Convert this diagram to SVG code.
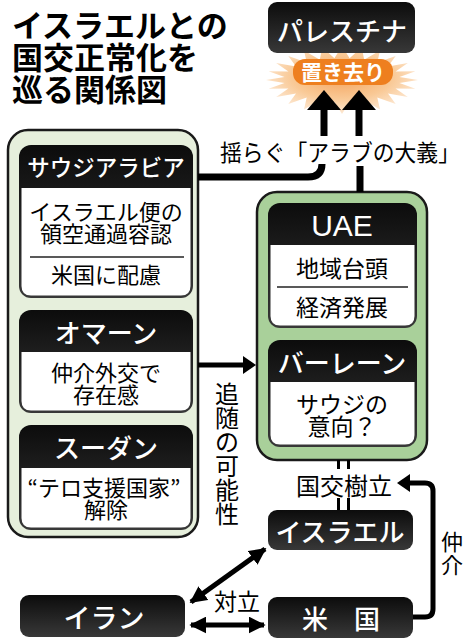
<svg xmlns="http://www.w3.org/2000/svg" width="470" height="640" viewBox="0 0 470 640">
<defs>
<linearGradient id="gBlk" x1="0" y1="0" x2="0" y2="1">
<stop offset="0" stop-color="#0c0c0c"/><stop offset="1" stop-color="#383838"/>
</linearGradient>
<radialGradient id="gBurst" cx="0.5" cy="0.45" r="0.55">
<stop offset="0" stop-color="#f4a35c"/><stop offset="0.6" stop-color="#f9c996"/><stop offset="1" stop-color="#fde9d4"/>
</radialGradient>
<marker id="ah" viewBox="0 0 10 10" refX="9" refY="5" markerWidth="3.4" markerHeight="3.4" orient="auto-start-reverse" markerUnits="strokeWidth">
<path d="M0,0 L10,5 L0,10 Z" fill="#000"/>
</marker>
<style>
text{font-family:"Noto Sans CJK JP","Noto Sans",sans-serif;dominant-baseline:central;text-anchor:middle}
.ttl{font-size:31px;font-weight:700;text-anchor:start;fill:#000}
.blk{fill:url(#gBlk)}
.hd{fill:#fff;font-weight:500}
.body{fill:#fff}
.bt{font-size:22px;fill:#000}
.lbl{font-size:23px;fill:#000}
.ln{fill:none;stroke:#000}
.div{stroke:#222;stroke-width:1.5}
</style>
</defs>
<rect width="470" height="640" fill="#fff"/>

<g id="title">
<text class="ttl" x="12" y="23">イスラエルとの<tspan x="12" dy="32">国交正常化を</tspan><tspan x="12" dy="32">巡る関係図</tspan></text>
</g>

<g id="burst">
<polygon fill="url(#gBurst)" points="418,80 399.5,82.9 415.4,88.8 395.6,88.4 407.8,97 388,93.4 395.7,104 377.3,97.4 380,109.4 364.2,100.3 361.7,112.8 349.6,101.8 342,114 334.4,101.8 322.3,112.8 319.8,100.3 304,109.4 306.7,97.4 288.3,104 296,93.4 276.2,97 288.4,88.4 268.6,88.8 284.5,82.9 266,80 284.5,77.1 268.6,71.2 288.4,71.6 276.2,63 296,66.6 288.3,56 306.7,62.6 304,50.6 319.8,59.7 322.3,47.2 334.4,58.2 342,46 349.6,58.2 361.7,47.2 364.2,59.7 380,50.6 377.3,62.6 395.7,56 388,66.6 407.8,63 395.6,71.6 415.4,71.2 399.5,77.1"/>
</g>

<g id="palestine">
<rect class="blk" x="268" y="2" width="147" height="51" rx="9"/>
<text class="hd" x="342" y="29" style="font-size:26px">パレスチナ</text>
</g>

<g id="left-behind">
<rect x="293" y="59" width="100" height="26" rx="12" fill="#ee7f1f"/>
<text x="343" y="71" style="font-size:21px;font-weight:700;fill:#fff">置き去り</text>
</g>

<g id="saudi-group">
<rect x="8" y="130" width="190" height="407" rx="20" fill="#e6efdc" stroke="#1a1a1a" stroke-width="2.5"/>
</g>

<g id="saudi">
<rect class="blk" x="19" y="145" width="174" height="153" rx="12"/>
<path class="body" d="M21.5,188 H190.5 V286 Q190.5,295.5 181,295.5 H31 Q21.5,295.5 21.5,286 Z"/>
<text class="hd" x="106" y="166" style="font-size:22.5px">サウジアラビア</text>
<text class="bt" x="106" y="210">イスラエル便の<tspan x="106" dy="21.5">領空通過容認</tspan></text>
<line class="div" x1="30" y1="257" x2="184" y2="257"/>
<text class="bt" x="106" y="273">米国に配慮</text>
</g>

<g id="oman">
<rect class="blk" x="19" y="310" width="174" height="103" rx="12"/>
<path class="body" d="M21.5,352 H190.5 V401 Q190.5,410.5 181,410.5 H31 Q21.5,410.5 21.5,401 Z"/>
<text class="hd" x="106" y="331" style="font-size:26px">オマーン</text>
<text class="bt" x="106" y="371">仲介外交で<tspan x="106" dy="21.5">存在感</tspan></text>
</g>

<g id="sudan">
<rect class="blk" x="19" y="425" width="174" height="105" rx="12"/>
<path class="body" d="M21.5,468 H190.5 V518 Q190.5,527.5 181,527.5 H31 Q21.5,527.5 21.5,518 Z"/>
<text class="hd" x="106" y="446" style="font-size:26px">スーダン</text>
<text class="bt" x="104" y="486">“テロ支援国家”<tspan x="106" dy="22">解除</tspan></text>
</g>

<g id="uae-group">
<rect x="257" y="192" width="170" height="268" rx="20" fill="#a9d09a" stroke="#1a1a1a" stroke-width="2.5"/>
</g>

<g id="uae">
<rect class="blk" x="268" y="203" width="149" height="125" rx="12"/>
<path class="body" d="M270.5,245 H414.5 V316 Q414.5,325.5 405,325.5 H280 Q270.5,325.5 270.5,316 Z"/>
<text x="342" y="225" style="font-family:'Liberation Sans',sans-serif;font-size:30px;fill:#fff">UAE</text>
<text class="bt" x="342" y="267" style="font-size:23px">地域台頭</text>
<line class="div" x1="277" y1="287" x2="408" y2="287"/>
<text class="bt" x="342" y="306" style="font-size:23px">経済発展</text>
</g>

<g id="bahrain">
<rect class="blk" x="268" y="340" width="149" height="107" rx="12"/>
<path class="body" d="M270.5,382 H414.5 V435 Q414.5,444.5 405,444.5 H280 Q270.5,444.5 270.5,435 Z"/>
<text class="hd" x="342" y="361" style="font-size:26px">バーレーン</text>
<text class="bt" x="342" y="403" style="font-size:23px">サウジの<tspan x="342" dy="22">意向？</tspan></text>
</g>

<g id="israel">
<rect class="blk" x="268" y="510" width="145" height="40" rx="9"/>
<text class="hd" x="340" y="530" style="font-size:26px">イスラエル</text>
</g>

<g id="usa">
<rect class="blk" x="268" y="597" width="145" height="41" rx="9"/>
<text class="hd" x="341" y="617" style="font-size:26px">米　国</text>
</g>

<g id="iran">
<rect class="blk" x="20" y="595" width="165" height="42" rx="9"/>
<text class="hd" x="104" y="616" style="font-size:27px">イラン</text>
</g>

<g id="connectors">
<path class="ln" stroke-width="7" d="M324,136 V108"/>
<polygon points="324,90 341,110 307,110" fill="#000"/>
<path class="ln" stroke-width="7" d="M359,136 V108"/>
<polygon points="359,90 376,110 342,110" fill="#000"/>
<path class="ln" stroke-width="7" d="M198,177 H308 Q322,177 322,164"/>
<path class="ln" stroke-width="7" d="M360,166 V192"/>
<text class="lbl" x="220" y="151" textLength="240" lengthAdjust="spacingAndGlyphs" style="text-anchor:start;font-size:23px">揺らぐ「アラブの大義」</text>

<path class="ln" stroke-width="5" d="M198,365 H244"/>
<polygon points="256,365 243,356 243,374" fill="#000"/>
<text class="lbl" x="227" y="392" style="font-size:24px">追<tspan x="227" dy="24">随</tspan><tspan x="227" dy="24">の</tspan><tspan x="227" dy="24">可</tspan><tspan x="227" dy="24">能</tspan><tspan x="227" dy="24">性</tspan></text>

<path class="ln" stroke-width="3" d="M338.5,460 V469 M348.5,460 V469 M338.5,498 V510 M348.5,498 V510"/>
<text class="lbl" x="344" y="484" style="font-size:24px">国交樹立</text>

<path class="ln" stroke-width="5" d="M413,617 H425 Q433,617 433,609 V491 Q433,483 425,483 H408"/>
<polygon points="397,483 410,474 410,492" fill="#000"/>
<text class="lbl" x="452" y="540" style="font-size:22px">仲<tspan x="452" dy="23">介</tspan></text>

<line class="ln" stroke-width="5" x1="191" y1="602" x2="265" y2="549" marker-start="url(#ah)" marker-end="url(#ah)"/>
<line class="ln" stroke-width="5" x1="191" y1="625" x2="264" y2="625" marker-start="url(#ah)" marker-end="url(#ah)"/>
<text class="lbl" x="237" y="600">対立</text>
</g>
</svg>
